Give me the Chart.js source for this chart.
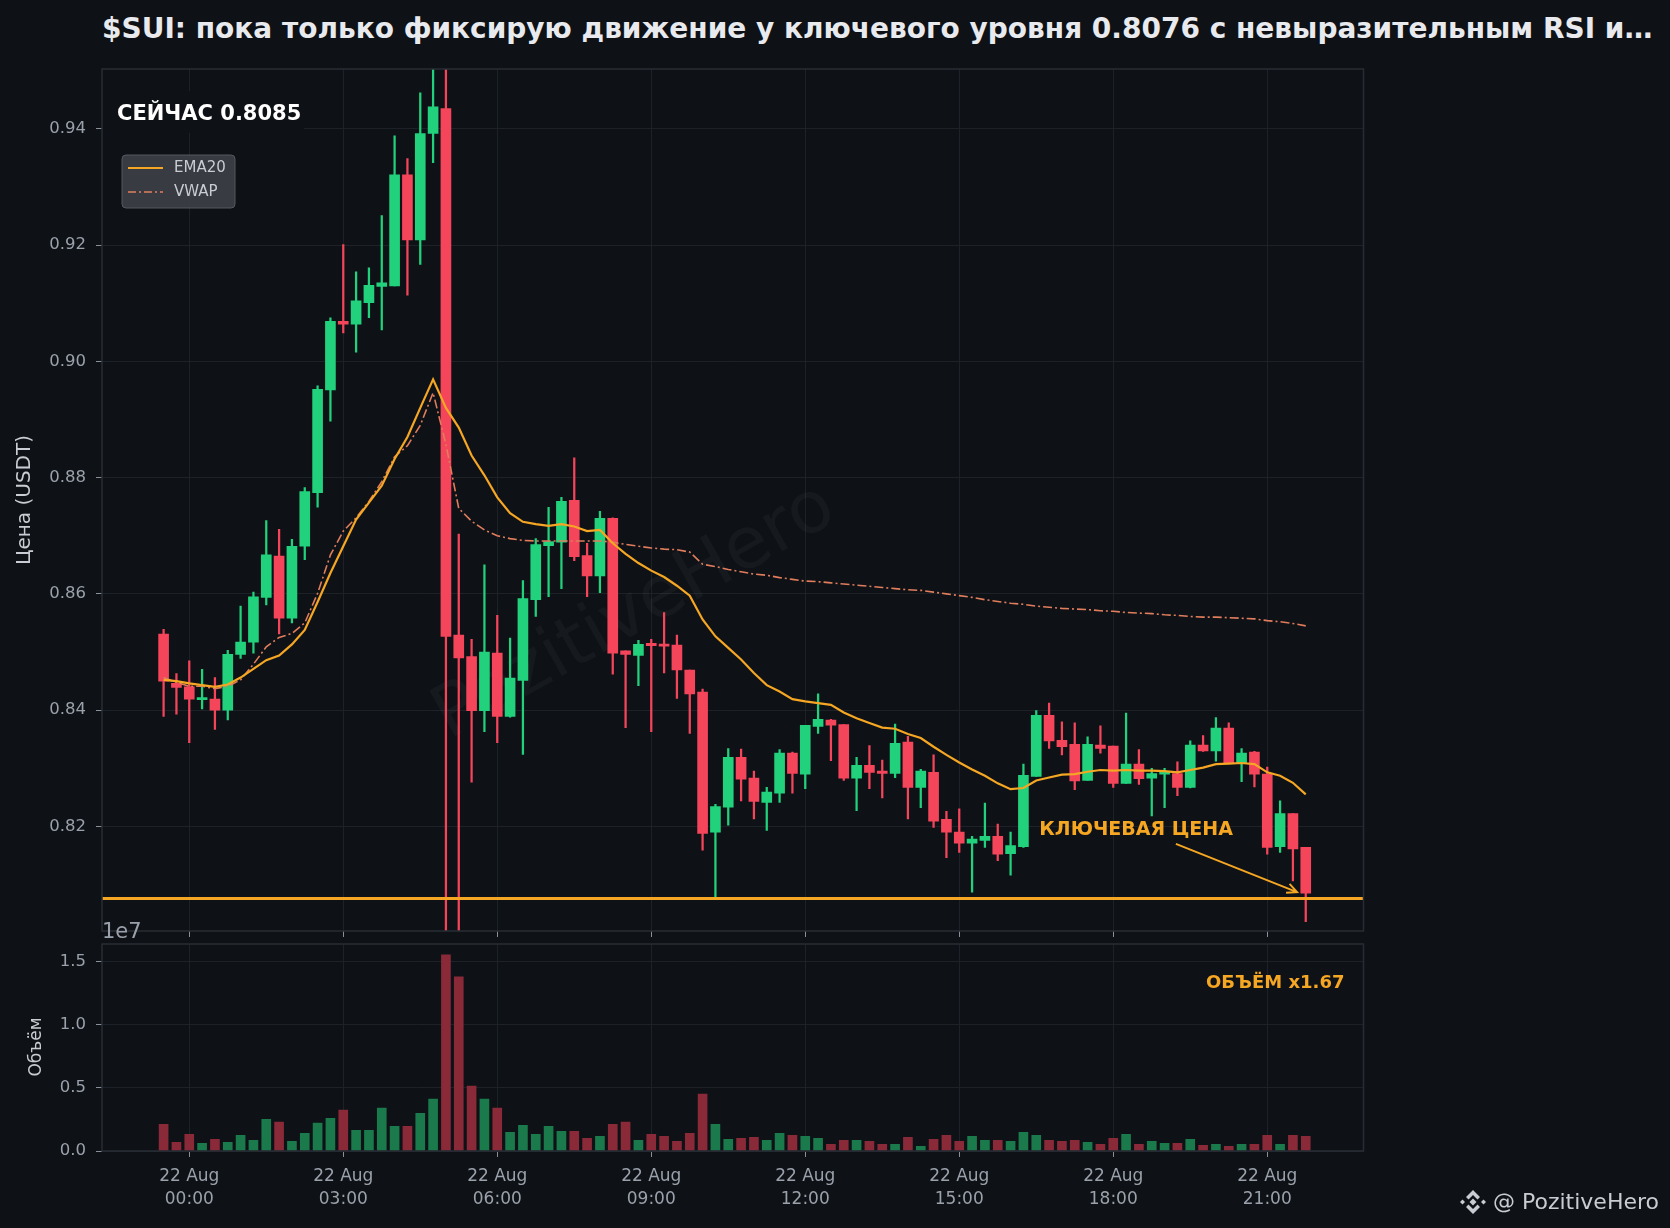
<!DOCTYPE html>
<html>
<head>
<meta charset="utf-8">
<script src="https://cdn.jsdelivr.net/npm/chart.js@4.4.0/dist/chart.umd.min.js"></script>
<style>
  html, body { margin: 0; padding: 0; background: #0e1116; }
  #wrap { position: relative; width: 1670px; height: 1228px; overflow: hidden; background: #0e1116; font-family: "DejaVu Sans", sans-serif; }
  #title { position: absolute; left: 102px; top: 12px; font-weight: bold; font-size: 28px; line-height: 34px; color: #e8eaee; white-space: nowrap; }
  #priceCanvas { position: absolute; left: 0; top: 0; }
  #volCanvas { position: absolute; left: 0; top: 912px; }
  #brand { position: absolute; left: 1459px; top: 1187px; display: flex; align-items: center; color: #c9ccd2; font-size: 22px; line-height: 30px; }
  #brand svg { margin-right: 6px; }
</style>
</head>
<body>
<div id="wrap">
  <div id="title">$SUI: пока только фиксирую движение у ключевого уровня 0.8076 с невыразительным RSI и…</div>
  <canvas id="priceCanvas" width="1670" height="945"></canvas>
  <canvas id="volCanvas" width="1670" height="316"></canvas>
  <div id="brand">
    <svg width="28" height="28" viewBox="0 0 28 28">
      <g fill="#c9ccd2">
        <polygon points="14,2 21,9 18.5,11.5 14,7 9.5,11.5 7,9"/>
        <polygon points="14,26 21,19 18.5,16.5 14,21 9.5,16.5 7,19"/>
        <polygon points="14,10.5 17.5,14 14,17.5 10.5,14"/>
        <polygon points="3.5,11.5 6,14 3.5,16.5 1,14"/>
        <polygon points="24.5,11.5 27,14 24.5,16.5 22,14"/>
      </g>
    </svg>
    <span>@ PozitiveHero</span>
  </div>
</div>
<script>
// 15-minute candles, first one at 21 Aug 23:30 (hours relative to 22 Aug 00:00)
const START_HOUR = -0.5;
const STEP_HOUR = 0.25;

const opens = [
  0.8531, 0.8446, 0.8440, 0.8418, 0.8419, 0.8400, 0.8496, 0.8517, 0.8594, 0.8665,
  0.8558, 0.8682, 0.8774, 0.8951, 0.9069, 0.9064, 0.9101, 0.9129, 0.9130, 0.9321,
  0.9209, 0.9392, 0.9435, 0.8529, 0.8492, 0.8399, 0.8498, 0.8389, 0.8451, 0.8590,
  0.8683, 0.8689, 0.8761, 0.8666, 0.8631, 0.8730, 0.8502, 0.8494, 0.8515, 0.8513,
  0.8512, 0.8469, 0.8431, 0.8190, 0.8233, 0.8319, 0.8283, 0.8241, 0.8257, 0.8326,
  0.8290, 0.8372, 0.8383, 0.8375, 0.8283, 0.8305, 0.8295, 0.8291, 0.8345, 0.8267,
  0.8293, 0.8212, 0.8190, 0.8171, 0.8176, 0.8183, 0.8153, 0.8165, 0.8286, 0.8391,
  0.8348, 0.8341, 0.8279, 0.8340, 0.8338, 0.8274, 0.8307, 0.8283, 0.8290, 0.8291,
  0.8267, 0.8340, 0.8330, 0.8369, 0.8308, 0.8328, 0.8290, 0.8165, 0.8222, 0.8164
];
const highs = [
  0.8539, 0.8463, 0.8485, 0.8470, 0.8456, 0.8503, 0.8579, 0.8603, 0.8726, 0.8711,
  0.8694, 0.8783, 0.8958, 0.9075, 0.9201, 0.9154, 0.9161, 0.9251, 0.9388, 0.9349,
  0.9462, 0.9510, 0.9530, 0.8703, 0.8522, 0.8650, 0.8563, 0.8524, 0.8623, 0.8695,
  0.8749, 0.8766, 0.8834, 0.8687, 0.8742, 0.8731, 0.8502, 0.8520, 0.8522, 0.8568,
  0.8529, 0.8469, 0.8436, 0.8238, 0.8334, 0.8333, 0.8295, 0.8267, 0.8332, 0.8328,
  0.8374, 0.8428, 0.8384, 0.8375, 0.8319, 0.8339, 0.8314, 0.8376, 0.8355, 0.8298,
  0.8323, 0.8226, 0.8230, 0.8183, 0.8240, 0.8204, 0.8190, 0.8307, 0.8399, 0.8412,
  0.8380, 0.8378, 0.8354, 0.8373, 0.8338, 0.8395, 0.8332, 0.8300, 0.8300, 0.8311,
  0.8347, 0.8356, 0.8387, 0.8378, 0.8334, 0.8329, 0.8302, 0.8244, 0.8222, 0.8164
];
const lows = [
  0.8389, 0.8393, 0.8344, 0.8402, 0.8367, 0.8383, 0.8489, 0.8498, 0.8581, 0.8531,
  0.8550, 0.8659, 0.8749, 0.8897, 0.9049, 0.9016, 0.9075, 0.9054, 0.9130, 0.9114,
  0.9167, 0.9342, 0.7980, 0.8000, 0.8276, 0.8363, 0.8344, 0.8388, 0.8324, 0.8561,
  0.8595, 0.8609, 0.8657, 0.8595, 0.8602, 0.8462, 0.8370, 0.8442, 0.8363, 0.8464,
  0.8420, 0.8360, 0.8159, 0.8078, 0.8202, 0.8244, 0.8213, 0.8193, 0.8241, 0.8257,
  0.8265, 0.8360, 0.8313, 0.8279, 0.8227, 0.8265, 0.8249, 0.8284, 0.8213, 0.8232,
  0.8198, 0.8146, 0.8155, 0.8087, 0.8164, 0.8141, 0.8116, 0.8164, 0.8286, 0.8334,
  0.8323, 0.8263, 0.8279, 0.8326, 0.8267, 0.8274, 0.8272, 0.8218, 0.8232, 0.8253,
  0.8266, 0.8329, 0.8312, 0.8308, 0.8277, 0.8268, 0.8152, 0.8155, 0.8106, 0.8036
];
const closes = [
  0.8450, 0.8439, 0.8419, 0.8421, 0.8400, 0.8496, 0.8517, 0.8595, 0.8667, 0.8558,
  0.8682, 0.8776, 0.8952, 0.9069, 0.9064, 0.9104, 0.9131, 0.9135, 0.9321, 0.9209,
  0.9392, 0.9438, 0.8527, 0.8490, 0.8399, 0.8500, 0.8389, 0.8455, 0.8592, 0.8685,
  0.8690, 0.8759, 0.8664, 0.8631, 0.8730, 0.8498, 0.8496, 0.8513, 0.8511, 0.8510,
  0.8469, 0.8428, 0.8188, 0.8234, 0.8319, 0.8281, 0.8243, 0.8259, 0.8326, 0.8291,
  0.8374, 0.8384, 0.8374, 0.8283, 0.8305, 0.8293, 0.8291, 0.8343, 0.8267, 0.8295,
  0.8209, 0.8190, 0.8171, 0.8178, 0.8183, 0.8152, 0.8167, 0.8288, 0.8391, 0.8347,
  0.8337, 0.8278, 0.8341, 0.8334, 0.8274, 0.8307, 0.8282, 0.8291, 0.8294, 0.8267,
  0.8340, 0.8330, 0.8369, 0.8308, 0.8326, 0.8290, 0.8164, 0.8222, 0.8161, 0.8085
];
const ema20 = [
  0.8452, 0.8450, 0.8446, 0.8443, 0.8440, 0.8444, 0.8456, 0.8471, 0.8486, 0.8494,
  0.8513, 0.8538, 0.8586, 0.8636, 0.8682, 0.8728, 0.8757, 0.8786, 0.8832, 0.8870,
  0.8920, 0.8969, 0.8920, 0.8886, 0.8838, 0.8804, 0.8766, 0.8739, 0.8724, 0.8720,
  0.8717, 0.8720, 0.8716, 0.8708, 0.8710, 0.8687, 0.8669, 0.8653, 0.8640, 0.8629,
  0.8614, 0.8597, 0.8556, 0.8527, 0.8507, 0.8487, 0.8464, 0.8443, 0.8432, 0.8419,
  0.8415, 0.8412, 0.8409, 0.8396, 0.8386, 0.8378, 0.8370, 0.8368, 0.8359, 0.8352,
  0.8337, 0.8323, 0.8310, 0.8298, 0.8287, 0.8274, 0.8264, 0.8266, 0.8279, 0.8284,
  0.8289, 0.8290, 0.8294, 0.8297, 0.8296, 0.8297, 0.8296, 0.8296, 0.8295, 0.8293,
  0.8297, 0.8301, 0.8307, 0.8308, 0.8309, 0.8307, 0.8293, 0.8287, 0.8275, 0.8255
];
const vwap = [
  0.8456, 0.8448, 0.8441, 0.8441, 0.8437, 0.8441, 0.8452, 0.8479, 0.8509, 0.8525,
  0.8532, 0.8550, 0.8601, 0.8667, 0.8708, 0.8731, 0.8759, 0.8793, 0.8836, 0.8855,
  0.8890, 0.8946, 0.8857, 0.8747, 0.8725, 0.8710, 0.8700, 0.8695, 0.8692, 0.8691,
  0.8691, 0.8691, 0.8691, 0.8691, 0.8691, 0.8689, 0.8685, 0.8682, 0.8679, 0.8677,
  0.8676, 0.8672, 0.8651, 0.8647, 0.8642, 0.8638, 0.8634, 0.8632, 0.8628, 0.8625,
  0.8622, 0.8621, 0.8619, 0.8617, 0.8615, 0.8613, 0.8611, 0.8609, 0.8607, 0.8606,
  0.8603, 0.8600, 0.8597, 0.8594, 0.8590, 0.8587, 0.8584, 0.8582, 0.8579, 0.8577,
  0.8575, 0.8574, 0.8573, 0.8571, 0.8570, 0.8568, 0.8567, 0.8566, 0.8564, 0.8563,
  0.8561, 0.8560, 0.8560, 0.8559, 0.8558, 0.8557, 0.8554, 0.8552, 0.8549, 0.8545
];
// volume in units of 1e7
const volumes = [
  0.212, 0.069, 0.132, 0.061, 0.093, 0.069, 0.124, 0.085, 0.251, 0.228,
  0.077, 0.140, 0.220, 0.259, 0.323, 0.164, 0.164, 0.339, 0.196, 0.196,
  0.299, 0.410, 1.553, 1.378, 0.513, 0.410, 0.339, 0.148, 0.204, 0.132,
  0.196, 0.156, 0.156, 0.101, 0.116, 0.212, 0.228, 0.085, 0.132, 0.116,
  0.077, 0.140, 0.450, 0.212, 0.093, 0.101, 0.108, 0.085, 0.140, 0.124,
  0.116, 0.101, 0.053, 0.085, 0.085, 0.077, 0.053, 0.053, 0.108, 0.037,
  0.093, 0.124, 0.077, 0.116, 0.085, 0.085, 0.077, 0.148, 0.124, 0.085,
  0.077, 0.085, 0.069, 0.053, 0.101, 0.132, 0.053, 0.077, 0.061, 0.061,
  0.093, 0.045, 0.053, 0.037, 0.053, 0.053, 0.124, 0.053, 0.124, 0.116
];

const TICK_HOURS = [0, 3, 6, 9, 12, 15, 18, 21];
const TICK_LABELS = ['00:00', '03:00', '06:00', '09:00', '12:00', '15:00', '18:00', '21:00'];
const DATE_LABEL = '22 Aug';
const PRICE_TICKS = [0.82, 0.84, 0.86, 0.88, 0.90, 0.92, 0.94];
const VOL_TICKS = [0, 0.5, 1.0, 1.5];
const KEY_LEVEL = 0.8076;
const NOW_PRICE = 0.8085;
const VOL_RATIO = 1.67;

const X_MIN = -1.70, X_MAX = 22.875;
const Y_MIN = 0.8020, Y_MAX = 0.9503;
const VOL_MAX = 1.638;

// annotation anchor points (hours, price)
const KEY_TEXT_AT = [16.56, 0.8194];
const ARROW_FROM = [19.22, 0.8170];
const ARROW_TO = [21.58, 0.8087];

const BG = '#0e1116';
const GRID = '#1d2128';
const FRAME = '#282c34';
const TICK_TEXT = '#9aa1ab';
const TICK_MARK = '#8a9099';
const UP = '#22d17c';
const DOWN = '#f4455b';
const VOL_UP = '#1b7a4b';
const VOL_DOWN = '#8a2a38';
const ORANGE = '#f5a623';
const VWAP_COLOR = '#e07d5c';
const FONT = '"DejaVu Sans", sans-serif';

const xs = opens.map((o, i) => START_HOUR + i * STEP_HOUR);
const isUp = closes.map((c, i) => c >= opens[i]);
const candleColors = isUp.map(u => u ? UP : DOWN);

function xAxisTicks(scale) {
  scale.ticks = TICK_HOURS.map(v => ({ value: v }));
}

// keep the y labels from pushing the plot area around
function fixYWidth(scale) {
  scale.width = 102;
  scale.paddingTop = 0;
  scale.paddingBottom = 0;
}
function fixXHeight(h) {
  return scale => {
    scale.height = h;
    scale.paddingLeft = 0;
    scale.paddingRight = 0;
  };
}

const priceDecor = {
  id: 'priceDecor',
  beforeDraw(chart) {
    const { ctx, chartArea: a } = chart;
    ctx.save();
    ctx.fillStyle = BG;
    ctx.fillRect(a.left, a.top, a.right - a.left, a.bottom - a.top);
    ctx.restore();
  },
  beforeDatasetsDraw(chart) {
    const { ctx, chartArea: a } = chart;
    ctx.save();
    ctx.beginPath();
    ctx.rect(a.left, a.top, a.right - a.left, a.bottom - a.top);
    ctx.clip();
    ctx.translate(635, 613);
    ctx.rotate(-29.5 * Math.PI / 180);
    ctx.font = '72px ' + FONT;
    ctx.fillStyle = 'rgba(255,255,255,0.035)';
    ctx.textAlign = 'center';
    ctx.textBaseline = 'middle';
    ctx.fillText('PozitiveHero', 0, 0);
    ctx.restore();
  },
  afterDraw(chart) {
    const { ctx, chartArea: a, scales } = chart;
    const x = scales.x, y = scales.y;
    ctx.save();
    // frame
    ctx.strokeStyle = FRAME;
    ctx.lineWidth = 1.5;
    ctx.strokeRect(a.left, a.top, a.right - a.left, a.bottom - a.top);

    // current price label
    ctx.fillStyle = BG;
    ctx.fillRect(a.left + 1, a.top + 22, 201, 42);
    ctx.font = 'bold 21px ' + FONT;
    ctx.fillStyle = '#ffffff';
    ctx.textAlign = 'left';
    ctx.textBaseline = 'middle';
    ctx.fillText('СЕЙЧАС ' + NOW_PRICE.toFixed(4), a.left + 15, a.top + 46);

    // legend
    const lx = a.left + 20, ly = a.top + 86;
    ctx.beginPath();
    ctx.roundRect(lx, ly, 113, 53, 4);
    ctx.fillStyle = 'rgba(60,63,70,0.92)';
    ctx.fill();
    ctx.strokeStyle = '#55585f';
    ctx.lineWidth = 1;
    ctx.stroke();
    ctx.lineWidth = 2.2;
    ctx.strokeStyle = ORANGE;
    ctx.beginPath();
    ctx.moveTo(lx + 6, ly + 13);
    ctx.lineTo(lx + 41, ly + 13);
    ctx.stroke();
    ctx.strokeStyle = VWAP_COLOR;
    ctx.lineWidth = 1.6;
    ctx.setLineDash([8, 3, 2, 3]);
    ctx.beginPath();
    ctx.moveTo(lx + 6, ly + 37);
    ctx.lineTo(lx + 41, ly + 37);
    ctx.stroke();
    ctx.setLineDash([]);
    ctx.font = '15px ' + FONT;
    ctx.fillStyle = '#c9ccd2';
    ctx.fillText('EMA20', lx + 52, ly + 13);
    ctx.fillText('VWAP', lx + 52, ly + 37);

    // key level annotation
    ctx.font = 'bold 19px ' + FONT;
    ctx.fillStyle = ORANGE;
    ctx.fillText('КЛЮЧЕВАЯ ЦЕНА', x.getPixelForValue(KEY_TEXT_AT[0]), y.getPixelForValue(KEY_TEXT_AT[1]));
    const x1 = x.getPixelForValue(ARROW_FROM[0]), y1 = y.getPixelForValue(ARROW_FROM[1]);
    const x2 = x.getPixelForValue(ARROW_TO[0]), y2 = y.getPixelForValue(ARROW_TO[1]);
    ctx.strokeStyle = ORANGE;
    ctx.lineWidth = 2;
    ctx.beginPath();
    ctx.moveTo(x1, y1);
    ctx.lineTo(x2, y2);
    const ang = Math.atan2(y2 - y1, x2 - x1);
    ctx.moveTo(x2 - 11 * Math.cos(ang - 0.45), y2 - 11 * Math.sin(ang - 0.45));
    ctx.lineTo(x2, y2);
    ctx.lineTo(x2 - 11 * Math.cos(ang + 0.45), y2 - 11 * Math.sin(ang + 0.45));
    ctx.stroke();

    // y axis title
    ctx.translate(25, 500);
    ctx.rotate(-Math.PI / 2);
    ctx.font = '20px ' + FONT;
    ctx.fillStyle = '#c9ccd2';
    ctx.textAlign = 'center';
    ctx.fillText('Цена (USDT)', 0, 0);
    ctx.restore();
  }
};

const volDecor = {
  id: 'volDecor',
  beforeDraw(chart) {
    const { ctx, chartArea: a } = chart;
    ctx.save();
    ctx.fillStyle = BG;
    ctx.fillRect(a.left, a.top, a.right - a.left, a.bottom - a.top);
    ctx.restore();
  },
  afterDraw(chart) {
    const { ctx, chartArea: a } = chart;
    ctx.save();
    ctx.strokeStyle = FRAME;
    ctx.lineWidth = 1.5;
    ctx.strokeRect(a.left, a.top, a.right - a.left, a.bottom - a.top);

    ctx.font = 'bold 18px ' + FONT;
    ctx.fillStyle = ORANGE;
    ctx.textAlign = 'right';
    ctx.textBaseline = 'middle';
    ctx.fillText('ОБЪЁМ x' + VOL_RATIO.toFixed(2), a.right - 19, a.top + 39);

    ctx.font = '21px ' + FONT;
    ctx.fillStyle = TICK_TEXT;
    ctx.textAlign = 'left';
    ctx.textBaseline = 'alphabetic';
    ctx.fillText('1e7', a.left, 26);

    ctx.translate(37, 135);
    ctx.rotate(-Math.PI / 2);
    ctx.font = '17px ' + FONT;
    ctx.fillStyle = '#c9ccd2';
    ctx.textAlign = 'center';
    ctx.textBaseline = 'middle';
    ctx.fillText('Объём', 0, 0);
    ctx.restore();
  }
};

new Chart(document.querySelector('#priceCanvas').getContext('2d'), {
  type: 'bar',
  data: {
    datasets: [
      {
        type: 'line',
        label: 'key',
        data: [{ x: X_MIN, y: KEY_LEVEL }, { x: X_MAX, y: KEY_LEVEL }],
        borderColor: ORANGE,
        borderWidth: 3,
        pointRadius: 0,
        order: -3
      },
      {
        type: 'line',
        label: 'EMA20',
        data: ema20.map((v, i) => ({ x: xs[i], y: v })),
        borderColor: ORANGE,
        borderWidth: 2.2,
        pointRadius: 0,
        tension: 0,
        order: -2
      },
      {
        type: 'line',
        label: 'VWAP',
        data: vwap.map((v, i) => ({ x: xs[i], y: v })),
        borderColor: VWAP_COLOR,
        borderWidth: 1.6,
        borderDash: [9, 3, 2, 3],
        pointRadius: 0,
        tension: 0,
        order: -1
      },
      {
        label: 'bodies',
        data: opens.map((o, i) => ({ x: xs[i], y: [o, closes[i]] })),
        backgroundColor: candleColors,
        barThickness: 10,
        minBarLength: 2,
        grouped: false,
        clip: 0,
        order: 1
      },
      {
        label: 'wicks',
        data: lows.map((l, i) => ({ x: xs[i], y: [l, highs[i]] })),
        backgroundColor: candleColors,
        barThickness: 1.6,
        grouped: false,
        clip: 0,
        order: 2
      }
    ]
  },
  options: {
    responsive: false,
    animation: false,
    devicePixelRatio: 1,
    layout: { padding: { left: 0, top: 69, right: 306.5, bottom: 0 } },
    plugins: { legend: { display: false }, tooltip: { enabled: false } },
    scales: {
      x: {
        type: 'linear',
        min: X_MIN,
        max: X_MAX,
        offset: false,
        grid: { color: GRID, tickColor: TICK_MARK, tickLength: 6, offset: false },
        border: { display: false },
        afterBuildTicks: xAxisTicks,
        ticks: { callback: () => '' },
        afterFit: fixXHeight(14)
      },
      y: {
        min: Y_MIN,
        max: Y_MAX,
        beginAtZero: false,
        grid: { color: GRID, tickColor: TICK_MARK, tickLength: 6 },
        border: { display: false },
        afterBuildTicks: s => { s.ticks = PRICE_TICKS.map(v => ({ value: v })); },
        ticks: { color: TICK_TEXT, font: { size: 16.5, family: FONT }, padding: 10, callback: v => v.toFixed(2) },
        afterFit: fixYWidth
      }
    }
  },
  plugins: [priceDecor]
});

new Chart(document.querySelector('#volCanvas').getContext('2d'), {
  type: 'bar',
  data: {
    datasets: [{
      label: 'Объём',
      data: volumes.map((v, i) => ({ x: xs[i], y: v })),
      backgroundColor: isUp.map(u => u ? VOL_UP : VOL_DOWN),
      barThickness: 9,
      grouped: false,
      clip: 0
    }]
  },
  options: {
    responsive: false,
    animation: false,
    devicePixelRatio: 1,
    layout: { padding: { left: 0, top: 32, right: 306.5, bottom: 0 } },
    plugins: { legend: { display: false }, tooltip: { enabled: false } },
    scales: {
      x: {
        type: 'linear',
        min: X_MIN,
        max: X_MAX,
        offset: false,
        grid: { color: GRID, tickColor: TICK_MARK, tickLength: 6, offset: false },
        border: { display: false },
        afterBuildTicks: xAxisTicks,
        ticks: {
          color: TICK_TEXT,
          font: { size: 17, family: FONT, lineHeight: 1.3 },
          padding: 9,
          maxRotation: 0,
          callback: v => [DATE_LABEL, TICK_LABELS[TICK_HOURS.indexOf(v)]]
        },
        afterFit: fixXHeight(77)
      },
      y: {
        min: 0,
        max: VOL_MAX,
        grid: { color: GRID, tickColor: TICK_MARK, tickLength: 6 },
        border: { display: false },
        afterBuildTicks: s => { s.ticks = VOL_TICKS.map(v => ({ value: v })); },
        ticks: { color: TICK_TEXT, font: { size: 16.5, family: FONT }, padding: 10, callback: v => v.toFixed(1) },
        afterFit: fixYWidth
      }
    }
  },
  plugins: [volDecor]
});
</script>
</body>
</html>
